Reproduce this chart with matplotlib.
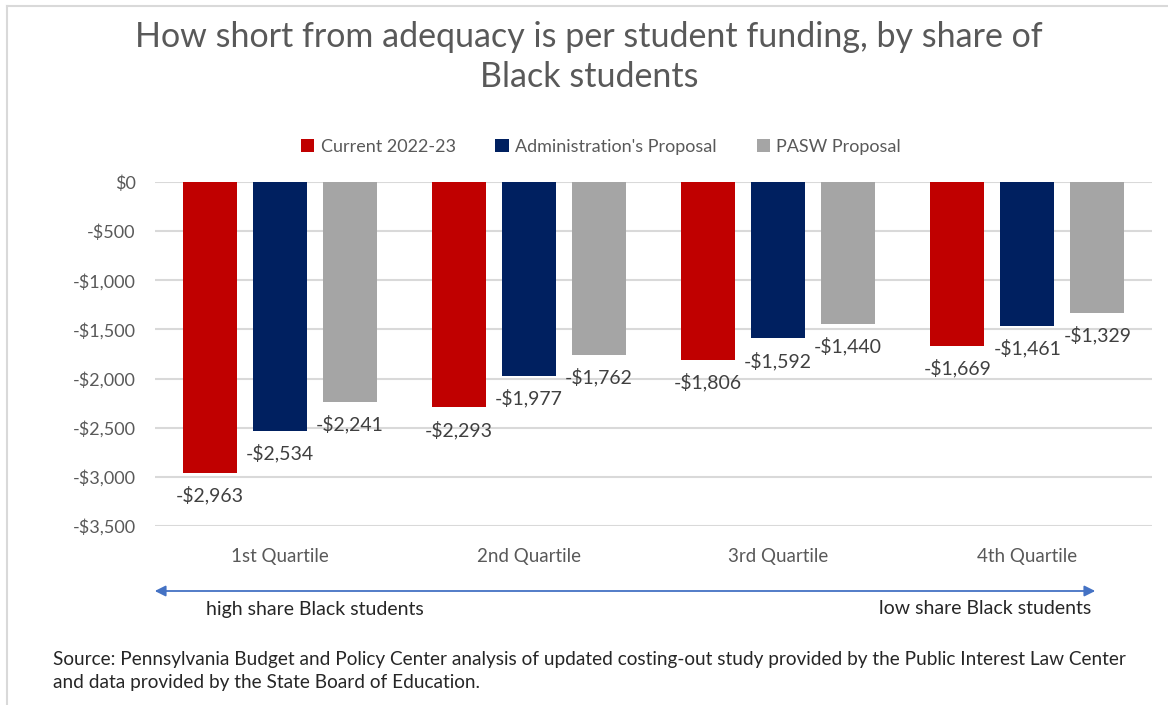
import numpy as np
import matplotlib.pyplot as plt
from matplotlib.patches import FancyArrowPatch
from matplotlib.lines import Line2D
from matplotlib.ticker import FuncFormatter

plt.rcParams['font.family'] = ['Lato', 'DejaVu Sans']

quartiles = ['1st Quartile', '2nd Quartile', '3rd Quartile', '4th Quartile']
series_names = ['Current 2022-23', "Administration's Proposal", 'PASW Proposal']
current = [-2963, -2293, -1806, -1669]
admin = [-2534, -1977, -1592, -1461]
pasw = [-2241, -1762, -1440, -1329]
colors = ['#C00000', '#002060', '#A5A5A5']

W, H = 1168, 705
fig = plt.figure(figsize=(W / 100, H / 100), dpi=100)

# plot area in pixel terms
left, right, top, bottom = 155, 1152, 182, 526
ax = fig.add_axes([left / W, 1 - bottom / H, (right - left) / W, (bottom - top) / H])

x = np.arange(len(quartiles))
step = 0.281
width = 0.217
bars = []
for i, (vals, c, name) in enumerate(zip([current, admin, pasw], colors, series_names)):
    b = ax.bar(x + (i - 1) * step, vals, width, color=c, label=name, zorder=3)
    bars.append(b)
    for xi, v in zip(x + (i - 1) * step, vals):
        ax.annotate('-${:,}'.format(abs(v)), (xi, v), xytext=(0, -16),
                    textcoords='offset points', ha='center', va='center',
                    fontsize=14, color='#404040')

ax.set_xlim(-0.5, len(quartiles) - 0.5)
ax.set_ylim(-3500, 0)
ax.set_yticks(np.arange(-3500, 1, 500))
ax.yaxis.set_major_formatter(FuncFormatter(
    lambda v, p: '$0' if v == 0 else '-${:,}'.format(int(abs(v)))))
ax.set_xticks(x)
ax.set_xticklabels(quartiles)
ax.tick_params(axis='both', length=0, labelsize=13, colors='#595959')
ax.tick_params(axis='x', labelsize=13.5, pad=16)
ax.tick_params(axis='y', pad=14)
ax.grid(axis='y', color='#D9D9D9', lw=1.5, zorder=0)
for s in ax.spines.values():
    s.set_visible(False)

fig.text(589 / W, 1 - 57 / H, 'How short from adequacy is per student funding, by share of\nBlack students',
         ha='center', va='center', fontsize=24.5, color='#595959', linespacing=1.32)

ax.legend(handles=bars, loc='center', bbox_to_anchor=(601 / W, 1 - 147 / H),
          bbox_transform=fig.transFigure, ncol=3, frameon=False, fontsize=13,
          handlelength=0.75, handleheight=0.75, handletextpad=0.35,
          columnspacing=2.2, labelcolor='#595959')

arrow = FancyArrowPatch((152 / W, 1 - 591 / H), (1098 / W, 1 - 591 / H),
                        transform=fig.transFigure, arrowstyle='<|-|>',
                        mutation_scale=16, color='#4472C4', lw=1.3)
fig.add_artist(arrow)
fig.text(315 / W, 1 - 609 / H, 'high share Black students', ha='center', va='center',
         fontsize=14, color='#262626')
fig.text(1091 / W, 1 - 608 / H, 'low share Black students', ha='right', va='center',
         fontsize=14, color='#262626')

fig.text(53 / W, 1 - 671 / H,
         'Source: Pennsylvania Budget and Policy Center analysis of updated costing-out study provided by the Public Interest Law Center\n'
         'and data provided by the State Board of Education.',
         ha='left', va='center', fontsize=13.7, color='#262626', linespacing=1.42)

# outer frame edges
fig.add_artist(Line2D([7 / W, 1], [1 - 6 / H, 1 - 6 / H], transform=fig.transFigure,
                      color='#D9D9D9', lw=1.5))
fig.add_artist(Line2D([7 / W, 7 / W], [0, 1 - 6 / H], transform=fig.transFigure,
                      color='#D9D9D9', lw=1.5))

fig.savefig('out.png', dpi=100)
